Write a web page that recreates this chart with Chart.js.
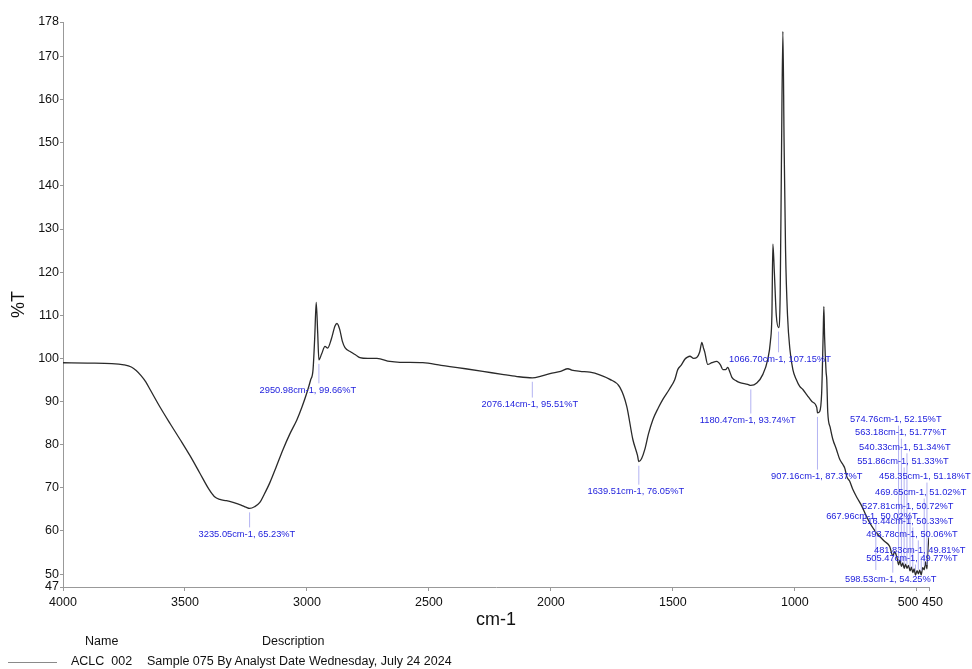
<!DOCTYPE html>
<html>
<head>
<meta charset="utf-8">
<script src="https://cdn.jsdelivr.net/npm/chart.js@4/dist/chart.umd.min.js"></script>
<style>
  html, body { margin: 0; padding: 0; background: #fff; }
  #wrap { position: relative; width: 972px; height: 669px; }
  #c { position: absolute; left: 0; top: 0; }
  .lg { position: absolute; font-family: "Liberation Sans", Arial, sans-serif; font-size: 12.5px; color: #111; white-space: pre; line-height: 14px; }
  #lgline { position: absolute; left: 8px; top: 662px; width: 49px; height: 0; border-top: 1.5px solid #8a8a8a; }
</style>
</head>
<body>
<div id="wrap">
  <canvas id="c" width="972" height="669"></canvas>
  <div class="lg" style="left:85px; top:634px;">Name</div>
  <div class="lg" style="left:262px; top:634px;">Description</div>
  <div id="lgline"></div>
  <div class="lg" style="left:71px; top:654px;">ACLC  002</div>
  <div class="lg" style="left:147px; top:654px;">Sample 075 By Analyst Date Wednesday, July 24 2024</div>
</div>
<script>
// ---- Spectrum data (wavenumber cm-1, %T) ----
const wavenumbers = [
  4000, 3900, 3800, 3750, 3720, 3700, 3680, 3660, 3643, 3600, 3560, 3520, 3480, 3440, 3400, 3380, 3357, 3330, 3303, 3270, 3250, 3235.05, 3215, 3193, 3175, 3152, 3125, 3098, 3070, 3041, 3020, 3000, 2985, 2975, 2968, 2962, 2956, 2950.98, 2940, 2926, 2915, 2900, 2885, 2877, 2866, 2855, 2844, 2820, 2800, 2783, 2750, 2713, 2660, 2619, 2525, 2450, 2414, 2350, 2279, 2200, 2139, 2076.14, 2040, 2004, 1960, 1930, 1915, 1880, 1840, 1800, 1760, 1717, 1689, 1664, 1645, 1639.51, 1628, 1615, 1600, 1582, 1560, 1541, 1515, 1492, 1480, 1465, 1451, 1440, 1430, 1415, 1402, 1390, 1381, 1375, 1369, 1357, 1340, 1320, 1305, 1295, 1284, 1275, 1266, 1258, 1240, 1225, 1193, 1180.47, 1156, 1131, 1111, 1100, 1094, 1090, 1084, 1076, 1066.70, 1060, 1055, 1049, 1044, 1038, 1030, 1020, 1008, 995, 980, 967, 950, 930, 910, 907.16, 898, 890, 884, 881, 878, 872, 869, 865, 855, 844, 830, 816, 803, 795, 787, 775, 762, 745, 725, 710, 693, 670, 652, 630, 611, 598.53, 590, 585, 580, 574.76, 569, 563.18, 557, 551.86, 546, 540.33, 534, 527.81, 522, 516.44, 511, 505.47, 499, 493.78, 488, 481.83, 476, 469.65, 464, 458.35, 455, 452, 450
];
const transmittance = [
  99.0, 98.9, 98.8, 98.5, 98.0, 97.2, 96.0, 94.5, 92.8, 88.5, 84.8, 81.2, 77.5, 73.5, 69.5, 68.0, 67.3, 67.0, 66.6, 66.0, 65.5, 65.23, 65.6, 66.6, 68.5, 71.2, 75.0, 78.9, 82.5, 85.8, 88.8, 92.1, 95.0, 97.4, 105.0, 113.0, 106.0, 99.66, 101.0, 102.8, 102.4, 104.5, 107.5, 108.1, 106.8, 104.0, 102.5, 101.5, 100.8, 100.2, 100.0, 100.0, 99.3, 99.1, 99.0, 98.4, 98.1, 97.6, 97.0, 96.3, 95.8, 95.51, 95.9, 96.5, 97.0, 97.6, 97.3, 97.0, 96.8, 96.2, 95.2, 93.3, 88.9, 81.2, 77.5, 76.05, 76.8, 78.9, 82.5, 85.8, 88.5, 90.5, 92.8, 95.1, 97.4, 98.5, 99.8, 100.3, 100.5, 100.0, 100.2, 101.5, 103.7, 102.5, 101.4, 98.6, 99.0, 99.3, 98.5, 97.4, 97.4, 97.9, 96.8, 95.6, 94.8, 94.4, 94.0, 93.74, 94.3, 96.3, 99.8, 104.0, 110.0, 126.5, 120.0, 110.0, 107.15, 115.0, 145.0, 175.8, 150.0, 125.0, 110.0, 102.0, 97.4, 95.2, 93.5, 92.8, 91.5, 90.0, 88.6, 87.37, 87.7, 92.0, 105.0, 112.0, 105.0, 97.0, 95.0, 87.5, 84.0, 81.2, 79.0, 76.6, 75.4, 74.5, 72.6, 71.5, 69.6, 67.7, 65.7, 63.8, 61.9, 59.9, 58.7, 57.5, 56.4, 54.25, 55.2, 54.5, 53.5, 52.15, 53.2, 51.77, 52.6, 51.33, 52.3, 51.34, 52.0, 50.72, 51.6, 50.33, 51.2, 49.77, 50.8, 50.06, 50.9, 49.81, 51.5, 51.02, 52.8, 51.18, 55.0, 57.5, 58.5
];

// ---- Tick labels ----
const xTicks = [4000, 3500, 3000, 2500, 2000, 1500, 1000, 500, 450];
const yTicks = [47, 50, 60, 70, 80, 90, 100, 110, 120, 130, 140, 150, 160, 170, 178];

// ---- Peak annotations ----
const peakWn = [3235.05, 2950.98, 2076.14, 1639.51, 1180.47, 1066.70, 907.16, 574.76, 563.18, 540.33, 551.86, 458.35, 469.65, 527.81, 667.96, 516.44, 493.78, 481.83, 505.47, 598.53];
const peakT  = [65.23, 99.66, 95.51, 76.05, 93.74, 107.15, 87.37, 52.15, 51.77, 51.34, 51.33, 51.18, 51.02, 50.72, 50.02, 50.33, 50.06, 49.81, 49.77, 54.25];

// label placement (in data coordinates of the label centre)
const labelPlace = [
  [3246, 59.2], [2996, 92.6], [2086, 89.3], [1652, 69.1], [1193, 85.6], [1061, 99.8], [910, 72.6],
  [586, 85.8], [566, 82.8], [549, 79.4], [557, 76.1], [467, 72.6], [484, 68.9], [537, 65.7],
  [684, 63.3], [537, 62.2], [520, 59.2], [488, 55.5], [520, 53.6], [607, 48.7]
];

const points = wavenumbers.map((w, i) => ({ x: w, y: transmittance[i] }));

const peakLabels = {
  id: 'peakLabels',
  afterDatasetsDraw(chart) {
    const ctx = chart.ctx, xs = chart.scales.x, ys = chart.scales.y;
    ctx.save();
    ctx.font = '9.3px "Liberation Sans", Arial, sans-serif';
    ctx.textAlign = 'center';
    ctx.textBaseline = 'middle';
    peakWn.forEach((w, i) => {
      const px = xs.getPixelForValue(w), py = ys.getPixelForValue(peakT[i]);
      const lx = xs.getPixelForValue(labelPlace[i][0]), ly = ys.getPixelForValue(labelPlace[i][1]);
      ctx.strokeStyle = '#b3b3f2';
      ctx.lineWidth = 1;
      ctx.beginPath();
      if (ly > py) { ctx.moveTo(px, py + 4); ctx.lineTo(px, ly - 7); }
      else { ctx.moveTo(px, py - 4); ctx.lineTo(px, ly + 6); }
      ctx.stroke();
      ctx.fillStyle = '#2222dd';
      ctx.fillText(w.toFixed(2) + 'cm-1, ' + peakT[i].toFixed(2) + '%T', lx, ly);
    });
    ctx.restore();
  }
};

new Chart(document.getElementById('c'), {
  type: 'line',
  data: {
    datasets: [{
      data: points,
      borderColor: '#2a2a2a',
      borderWidth: 1.3,
      pointRadius: 0,
      cubicInterpolationMode: 'monotone',
      fill: false
    }]
  },
  options: {
    responsive: false,
    animation: false,
    parsing: false,
    layout: { padding: { top: 22, right: 43, bottom: 37, left: 0 } },
    plugins: { legend: { display: false }, tooltip: { enabled: false } },
    scales: {
      x: {
        type: 'linear', reverse: true, min: 450, max: 4000,
        afterBuildTicks: s => { s.ticks = xTicks.map(v => ({ value: v })); },
        afterFit: s => { s.height = 45; },
        ticks: { autoSkip: false, maxRotation: 0, padding: 4, color: '#111',
                 font: { family: '"Liberation Sans", Arial, sans-serif', size: 12.5 },
                 callback: v => v === 500 ? '500     ' : (v === 450 ? '  450' : String(v)) },
        grid: { drawOnChartArea: false, drawTicks: true, tickLength: 4, color: '#999' },
        border: { color: '#999', width: 1 },
        title: { display: true, text: 'cm-1', color: '#111', padding: { top: 0, bottom: 1 },
                 font: { family: '"Liberation Sans", Arial, sans-serif', size: 18 } }
      },
      y: {
        type: 'linear', min: 47, max: 178,
        afterBuildTicks: s => { s.ticks = yTicks.map(v => ({ value: v })); },
        afterFit: s => { s.width = 63; },
        ticks: { autoSkip: false, padding: 1, color: '#111',
                 font: { family: '"Liberation Sans", Arial, sans-serif', size: 12.5 },
                 callback: v => String(v) },
        grid: { drawOnChartArea: false, drawTicks: true, tickLength: 3, color: '#999' },
        border: { color: '#999', width: 1 },
        title: { display: true, text: '%T', color: '#111', padding: { top: 8, bottom: 0 },
                 font: { family: '"Liberation Sans", Arial, sans-serif', size: 18 } }
      }
    }
  },
  plugins: [peakLabels]
});
</script>
</body>
</html>
